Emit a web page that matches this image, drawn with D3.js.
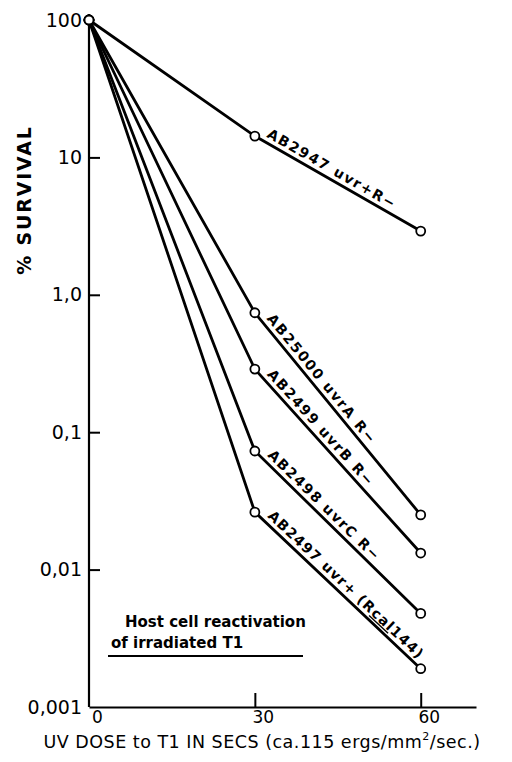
<!DOCTYPE html>
<html>
<head>
<meta charset="utf-8">
<script src="https://cdn.jsdelivr.net/npm/d3@7"></script>
<style>
  body { margin: 0; background: #fff; }
  svg text { font-family: "DejaVu Sans", sans-serif; fill: #000; }
</style>
</head>
<body>
<svg id="chart" width="512" height="762"></svg>
<script>
// UV dose (secs) and % survival
var doses = [0, 30, 60];
var ab2947 = [100, 14.3, 2.91];
var ab25000 = [100, 0.74, 0.025];
var ab2499 = [100, 0.288, 0.0132];
var ab2498 = [100, 0.073, 0.0048];
var ab2497 = [100, 0.0262, 0.0019];
var strainLabels = ["AB2947  uvr+R\u2212", "AB25000 uvrA R\u2212", "AB2499 uvrB R\u2212",
                    "AB2498 uvrC R\u2212", "AB2497 uvr+ (Rcal144)"];
var yTicks = [100, 10, 1, 0.1, 0.01, 0.001];
var yTickLabels = ["100", "10", "1,0", "0,1", "0,01", "0,001"];
var xTicks = [0, 30, 60];

var series = [ab2947, ab25000, ab2499, ab2498, ab2497].map(function(v, i) {
  return { label: strainLabels[i], values: v };
});

var svg = d3.select("#chart");

var x = d3.scaleLinear().domain([0, 70]).range([89, 476]);
var y = d3.scaleLog().domain([0.001, 100]).range([707, 20]);

// y axis
var yAxis = d3.axisLeft(y)
  .tickValues(yTicks)
  .tickFormat(function(d, i) { return yTickLabels[i]; })
  .tickSizeInner(-11)
  .tickSizeOuter(0)
  .tickPadding(7);

var gy = svg.append("g").attr("transform", "translate(" + x(0) + ",0)").call(yAxis);
gy.select(".domain").remove();
gy.selectAll(".tick line")
  .attr("stroke", "#000").attr("stroke-width", 2)
  .style("display", function(d) { return (d === 100 || d === 0.001) ? "none" : null; });
gy.selectAll(".tick text")
  .attr("font-size", 19).attr("font-family", "DejaVu Sans").attr("fill", "#000");

svg.append("line")
  .attr("x1", x(0)).attr("x2", x(0))
  .attr("y1", y(100) - 6).attr("y2", y(0.001))
  .attr("stroke", "#000").attr("stroke-width", 2.2);

// x axis
var xAxis = d3.axisBottom(x)
  .tickValues(xTicks)
  .tickFormat(d3.format("d"))
  .tickSizeInner(-14)
  .tickSizeOuter(0)
  .tickPadding(4);

var gx = svg.append("g").attr("transform", "translate(0," + y(0.001) + ")").call(xAxis);
gx.select(".domain").attr("stroke", "#000").attr("stroke-width", 2.2);
gx.selectAll(".tick line")
  .attr("stroke", "#000").attr("stroke-width", 2)
  .style("display", function(d) { return d === 0 ? "none" : null; });
gx.selectAll(".tick text")
  .attr("font-size", 17).attr("font-family", "DejaVu Sans").attr("fill", "#000")
  .attr("dx", 8);

// axis titles
var xt = svg.append("text")
  .attr("x", 262).attr("y", 748)
  .attr("text-anchor", "middle")
  .attr("font-size", 17.5)
  .attr("letter-spacing", 0.5);
xt.append("tspan").text("UV DOSE to T1 IN SECS (ca.115 ergs/mm");
xt.append("tspan").attr("font-size", 11).attr("dy", -8).text("2");
xt.append("tspan").attr("dy", 8).text("/sec.)");

svg.append("text")
  .attr("transform", "translate(31,200) rotate(-90)")
  .attr("text-anchor", "middle")
  .attr("font-size", 19)
  .attr("font-weight", "bold")
  .attr("letter-spacing", 1.8)
  .text("% SURVIVAL");

// survival lines
var line = d3.line()
  .x(function(d, i) { return x(doses[i]); })
  .y(function(d) { return y(d); });

svg.selectAll("path.curve")
  .data(series)
  .enter()
  .append("path")
  .attr("class", "curve")
  .attr("d", function(d) { return line(d.values); })
  .attr("fill", "none")
  .attr("stroke", "#000")
  .attr("stroke-width", 2.8);

series.forEach(function(s) {
  svg.selectAll(null)
    .data(s.values)
    .enter()
    .append("circle")
    .attr("cx", function(d, i) { return x(doses[i]); })
    .attr("cy", function(d) { return y(d); })
    .attr("r", 4.5)
    .attr("fill", "#fff")
    .attr("stroke", "#000")
    .attr("stroke-width", 1.8);
});

// strain labels along the 30-60 segment
series.forEach(function(s, i) {
  var x1 = x(doses[1]), y1 = y(s.values[1]);
  var x2 = x(doses[2]), y2 = y(s.values[2]);
  var ang = Math.atan2(y2 - y1, x2 - x1);
  var along = i === 0 ? 10 : 12, perp = 5;
  var px = x1 + along * Math.cos(ang) + perp * Math.sin(ang);
  var py = y1 + along * Math.sin(ang) - perp * Math.cos(ang);
  var t = svg.append("text")
    .attr("transform", "translate(" + px + "," + py + ") rotate(" + (ang * 180 / Math.PI) + ")")
    .attr("font-size", 14)
    .attr("font-weight", "bold")
    .attr("letter-spacing", i === 4 ? 1.2 : 1.6);
  if (s.label.indexOf("cal") > -1) {
    var parts = s.label.split("cal");
    t.append("tspan").text(parts[0]);
    t.append("tspan").attr("text-decoration", "underline").text("cal");
    t.append("tspan").text(parts[1]);
  } else {
    t.text(s.label);
  }
});

// annotation
svg.append("text").attr("x", 125).attr("y", 627)
  .attr("font-size", 15).attr("font-weight", "bold")
  .text("Host cell reactivation");
svg.append("text").attr("x", 111).attr("y", 648)
  .attr("font-size", 15).attr("font-weight", "bold")
  .text("of irradiated  T1");
svg.append("line")
  .attr("x1", 108).attr("x2", 303)
  .attr("y1", 656).attr("y2", 656)
  .attr("stroke", "#000").attr("stroke-width", 2);
</script>
</body>
</html>
